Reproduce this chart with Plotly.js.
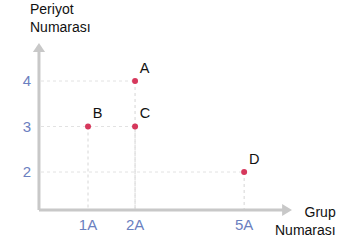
<!DOCTYPE html>
<html><head><meta charset="utf-8">
<script src="https://cdn.plot.ly/plotly-3.0.1.min.js"></script>
<style>html,body{margin:0;padding:0;background:#fff}#chart{width:341px;height:247px}</style>
</head><body><div id="chart"></div>
<script>
// Data
const elements = ["A", "B", "C", "D"];
const groupPos = [2, 1, 2, 4.32];   // position of the group on the x axis
const period = [4, 3, 3, 2];
const groupTickPos = [1, 2, 4.32];
const groupTickLabels = ["1A", "2A", "5A"];
const periodTicks = [2, 3, 4];

const xMin = 0, xMax = 5.38, yMin = 1.165, yMax = 4.835;
const gray = "#c8c8c8";
const traces = [];
for (let i = 0; i < elements.length; i++) {
  traces.push({x: [xMin, groupPos[i]], y: [period[i], period[i]], mode: "lines",
    line: {color: "#e2e2e2", width: 1, dash: "dot"}, hoverinfo: "skip", showlegend: false});
  traces.push({x: [groupPos[i], groupPos[i]], y: [period[i], yMin], mode: "lines",
    line: {color: "#d6d6d6", width: 1, dash: "dot"}, hoverinfo: "skip", showlegend: false});
}
traces.push({x: groupPos, y: period, mode: "markers+text", text: elements,
  textposition: "top right", textfont: {family: "Arial, Liberation Sans, sans-serif", size: 14.5, color: "#111"},
  marker: {color: "#d6385c", size: 6}, showlegend: false, cliponaxis: false});

const layout = {
  width: 341, height: 247,
  margin: {l: 41, r: 47, t: 43, b: 37},
  paper_bgcolor: "#fff", plot_bgcolor: "#fff",
  font: {family: "Arial, Liberation Sans, sans-serif", size: 14},
  xaxis: {range: [xMin, xMax], tickvals: groupTickPos, ticktext: groupTickLabels,
    showgrid: false, zeroline: false, showline: false, ticks: "", ticklabelstandoff: 4,
    tickfont: {color: "#6b80c0", size: 15}, fixedrange: true},
  yaxis: {range: [yMin, yMax], tickvals: periodTicks, showgrid: false, zeroline: false,
    showline: false, ticks: "", ticklabelstandoff: 9,
    tickfont: {color: "#6b80c0", size: 15}, fixedrange: true},
  shapes: [
    {type: "line", xref: "paper", yref: "paper", x0: -0.008, x1: -0.008, y0: 0, y1: 0.95, line: {color: gray, width: 3}},
    {type: "line", xref: "paper", yref: "paper", x0: -0.008, x1: 0.96, y0: 0, y1: 0, line: {color: gray, width: 3}},
    {type: "path", xref: "paper", yref: "paper", path: "M -0.032 0.946 L 0.016 0.946 L -0.008 1 Z", fillcolor: gray, line: {width: 0}},
    {type: "path", xref: "paper", yref: "paper", path: "M 0.953 0.036 L 0.953 -0.036 L 0.992 0 Z", fillcolor: gray, line: {width: 0}}
  ],
  annotations: [
    {xref: "paper", yref: "paper", x: -0.051, y: 1.152, xanchor: "left", yanchor: "middle", align: "left",
      text: "Periyot<br>Numarası", showarrow: false, font: {size: 14, color: "#111"}},
    {xref: "paper", yref: "paper", x: 1.174, y: -0.066, xanchor: "right", yanchor: "middle", align: "right",
      text: "Grup<br>Numarası", showarrow: false, font: {size: 14, color: "#111"}}
  ]
};
Plotly.newPlot("chart", traces, layout, {displayModeBar: false, staticPlot: true});
</script></body></html>
